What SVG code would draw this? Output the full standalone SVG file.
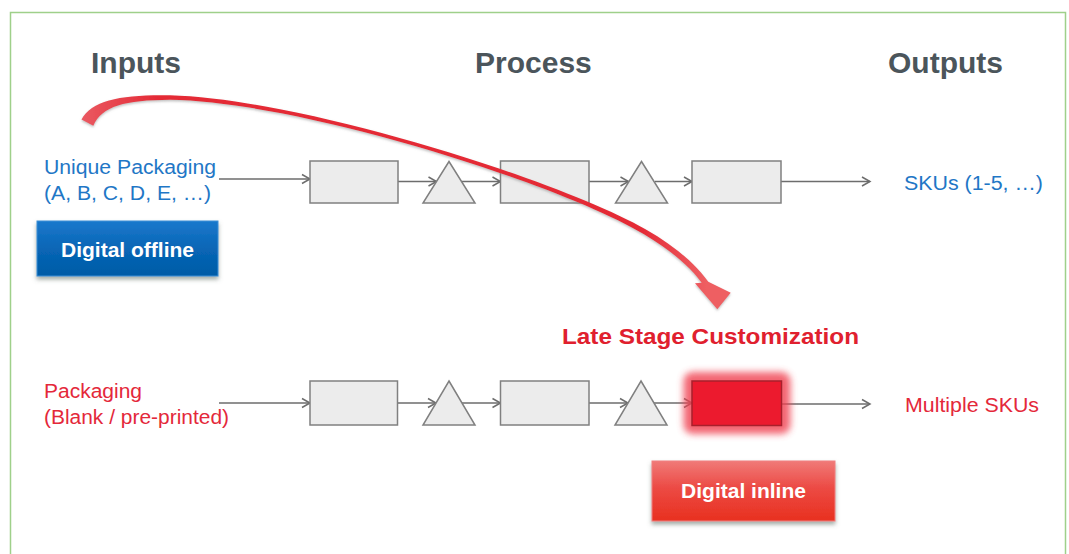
<svg xmlns="http://www.w3.org/2000/svg" width="1069" height="554" viewBox="0 0 1069 554">
  <style>
    .hdr { font-family: "Liberation Sans", Arial, sans-serif; font-weight: bold; font-size: 30px; fill: #4b555b; }
    .lbl { font-family: "Liberation Sans", Arial, sans-serif; font-size: 19.5px; }
    .blue { fill: #1f77c6; }
    .red { fill: #e4283a; }
    .btn { font-family: "Liberation Sans", Arial, sans-serif; font-weight: bold; font-size: 21px; fill: #ffffff; text-anchor: middle; }
    .box { fill: #ececec; stroke: #808080; stroke-width: 1.5; }
    .conn { fill: none; stroke: #6d6d6d; stroke-width: 1.5; marker-end: url(#ah); }
  </style>
  <defs>
    <marker id="ah" markerWidth="12" markerHeight="12" refX="10" refY="6" orient="auto" markerUnits="userSpaceOnUse">
      <path d="M2,1.5 L10,6 L2,10.5" fill="none" stroke="#6d6d6d" stroke-width="1.5"/>
    </marker>
    <linearGradient id="gBlue" x1="0" y1="0" x2="0" y2="1">
      <stop offset="0" stop-color="#1a78cc"/>
      <stop offset="0.5" stop-color="#0866b6"/>
      <stop offset="1" stop-color="#005ba6"/>
    </linearGradient>
    <linearGradient id="gRed" x1="0" y1="0" x2="0" y2="1">
      <stop offset="0" stop-color="#f07a78"/>
      <stop offset="0.45" stop-color="#ec4a44"/>
      <stop offset="1" stop-color="#e8301f"/>
    </linearGradient>
    <linearGradient id="gArrow" gradientUnits="userSpaceOnUse" x1="80" y1="0" x2="732" y2="0">
      <stop offset="0" stop-color="#ea5a62"/>
      <stop offset="0.12" stop-color="#e42a36"/>
      <stop offset="0.86" stop-color="#e42a36"/>
      <stop offset="0.96" stop-color="#ee5e62"/>
    </linearGradient>
    <filter id="shadow" x="-10%" y="-20%" width="120%" height="150%">
      <feDropShadow dx="0" dy="3" stdDeviation="2" flood-color="#5a6a60" flood-opacity="0.55"/>
    </filter>
    <filter id="glow" x="-30%" y="-40%" width="160%" height="180%">
      <feGaussianBlur stdDeviation="3.5"/>
    </filter>
    <filter id="ashadow" x="-5%" y="-10%" width="110%" height="130%">
      <feDropShadow dx="0" dy="1.5" stdDeviation="1" flood-color="#808080" flood-opacity="0.5"/>
    </filter>
  </defs>

  <rect x="0" y="0" width="1069" height="554" fill="#ffffff"/>
  <rect x="10.5" y="12.5" width="1055" height="600" fill="#ffffff" stroke="#9fd08a" stroke-width="1.5"/>

  <g id="headers">
    <text class="hdr" x="91" y="73">Inputs</text>
    <text class="hdr" x="475" y="73">Process</text>
    <text class="hdr" x="888" y="73">Outputs</text>
  </g>

  <g id="connectors">
    <line class="conn" x1="219" y1="179" x2="310" y2="179"/>
    <line class="conn" x1="398" y1="181.5" x2="436.5" y2="181.5"/>
    <line class="conn" x1="462" y1="181.5" x2="500.5" y2="181.5"/>
    <line class="conn" x1="589" y1="181.5" x2="628.5" y2="181.5"/>
    <line class="conn" x1="655" y1="181.5" x2="692" y2="181.5"/>
    <line class="conn" x1="781" y1="181.5" x2="870" y2="181.5"/>

    <line class="conn" x1="219" y1="403" x2="310" y2="403"/>
    <line class="conn" x1="397" y1="403" x2="436" y2="403"/>
    <line class="conn" x1="462" y1="403" x2="500.5" y2="403"/>
    <line class="conn" x1="589" y1="403" x2="628" y2="403"/>
    <line class="conn" x1="654" y1="403" x2="692" y2="403"/>
    <line class="conn" x1="782" y1="404" x2="870" y2="404"/>
  </g>

  <g id="row1">
    <g id="r1-box1"><rect class="box" x="310" y="161" width="88" height="42"/></g>
    <g id="r1-tri1"><polygon class="box" points="449,161.5 475,203 423,203"/></g>
    <g id="r1-box2"><rect class="box" x="500.5" y="161" width="88.5" height="42"/></g>
    <g id="r1-tri2"><polygon class="box" points="641.5,161.5 667.5,203 615.5,203"/></g>
    <g id="r1-box3"><rect class="box" x="692" y="161" width="89" height="42"/></g>
  </g>

  <g id="row2">
    <g id="r2-box1"><rect class="box" x="310" y="381" width="87.5" height="44"/></g>
    <g id="r2-tri1"><polygon class="box" points="449,381 475,425 423,425"/></g>
    <g id="r2-box2"><rect class="box" x="500.5" y="381" width="88.5" height="44"/></g>
    <g id="r2-tri2"><polygon class="box" points="641,381 667,425 615,425"/></g>
    <g id="r2-redbox">
      <rect x="683.5" y="372" width="107" height="62" rx="9" fill="#f04050" opacity="0.8" filter="url(#glow)"/>
      <rect x="692" y="381" width="89.5" height="44.5" fill="#ec1a2e" stroke="#a8202c" stroke-width="1.5"/>
    </g>
  </g>

  <g id="inputs-top">
    <text class="lbl blue" x="44" y="173.5" textLength="172" lengthAdjust="spacingAndGlyphs">Unique Packaging</text>
    <text class="lbl blue" x="44" y="200" textLength="167" lengthAdjust="spacingAndGlyphs">(A, B, C, D, E, …)</text>
  </g>
  <g id="outputs-top">
    <text class="lbl blue" x="904" y="190" textLength="139" lengthAdjust="spacingAndGlyphs">SKUs (1-5, …)</text>
  </g>
  <g id="inputs-bottom">
    <text class="lbl red" x="44" y="398" textLength="98" lengthAdjust="spacingAndGlyphs">Packaging</text>
    <text class="lbl red" x="44" y="423.5" textLength="185" lengthAdjust="spacingAndGlyphs">(Blank / pre-printed)</text>
  </g>
  <g id="outputs-bottom">
    <text class="lbl red" x="905" y="412" textLength="134" lengthAdjust="spacingAndGlyphs">Multiple SKUs</text>
  </g>

  <g id="late-stage">
    <text x="562" y="343.5" font-family="Liberation Sans, Arial, sans-serif" font-weight="bold" font-size="22" fill="#e0202e" textLength="297" lengthAdjust="spacingAndGlyphs">Late Stage Customization</text>
  </g>

  <g id="digital-offline">
    <rect x="37" y="221" width="181" height="55" fill="url(#gBlue)" stroke="#3a8fd6" stroke-width="1" filter="url(#shadow)"/>
    <text class="btn" x="127.5" y="257">Digital offline</text>
  </g>

  <g id="digital-inline">
    <rect x="652" y="461" width="183" height="60" fill="url(#gRed)" stroke="#f08080" stroke-width="1" filter="url(#shadow)"/>
    <text class="btn" x="743.5" y="498">Digital inline</text>
  </g>

  <g id="curved-arrow">
    <path filter="url(#ashadow)" fill="url(#gArrow)" d="M81.5,119.5 C92,100 122,94.5 170,95.3 C300,98.5 560.6,180.5 645.5,229.3 C673,245 694,262 708.3,281.7 L730.7,292.7 L717.3,309.3 L695,283.3 L701.7,282.7 C688,264 668,249 644,234.3 C559.4,183.5 300,101.5 170,99.7 C125,100 102,106 93.3,125.7 Z"/>
  </g>
</svg>
